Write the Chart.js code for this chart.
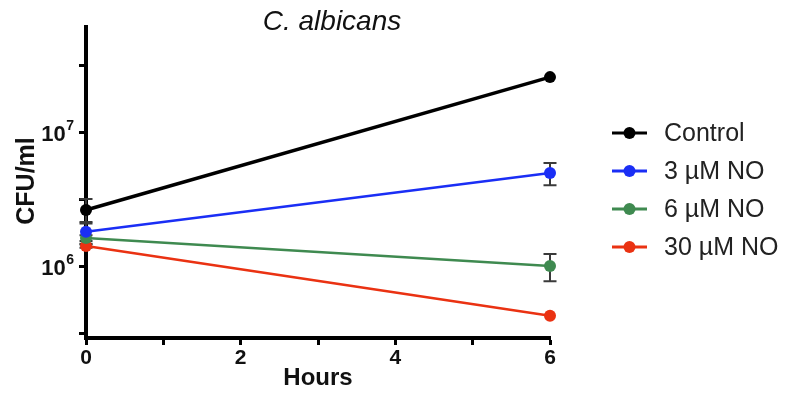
<!DOCTYPE html>
<html>
<head>
<meta charset="utf-8">
<script src="https://cdn.jsdelivr.net/npm/chart.js@4.4.1/dist/chart.umd.min.js"></script>
<style>
html,body{margin:0;padding:0;background:#fff;}
#wrap{position:relative;width:787px;height:395px;}
</style>
</head>
<body>
<div id="wrap"><canvas id="c" width="787" height="395"></canvas></div>
<script>
// ---- data ----
const hours = [0, 6];
const seriesNames = ['Control', '3 µM NO', '6 µM NO', '30 µM NO'];
const seriesColors = ['#000000', '#1a2ef5', '#3f8a50', '#ea3212'];
const controlMean = [2.62e6, 2.57e7];
const controlErr  = [0.54e6, 0.0];
const no3Mean     = [1.80e6, 4.94e6];
const no3Err      = [0.33e6, 0.93e6];
const no6Mean     = [1.62e6, 1.00e6];
const no6Err      = [0.08e6, 0.23e6];
const no30Mean    = [1.41e6, 4.26e5];
const no30Err     = [0.04e6, 0.0];
const xTickValues = [0, 1, 2, 3, 4, 5, 6];
const xTickLabels = ['0', '', '2', '', '4', '', '6'];
const yTickValues = [Math.pow(10, 5.5), 1e6, Math.pow(10, 6.5), 1e7, Math.pow(10, 7.5)];
const yTickExponents = [null, '6', null, '7', null];
const yMin = Math.pow(10, 5.463);
const yMax = Math.pow(10, 7.784);
const chartTitle = 'C. albicans';
const xTitle = 'Hours';
const yTitle = 'CFU/ml';

const means = [controlMean, no3Mean, no6Mean, no30Mean];
const errs = [controlErr, no3Err, no6Err, no30Err];

const datasets = seriesNames.map((name, i) => ({
  label: name,
  data: hours.map((h, j) => ({x: h, y: means[i][j]})),
  errors: errs[i],
  borderColor: seriesColors[i],
  backgroundColor: seriesColors[i],
  pointBackgroundColor: seriesColors[i],
  pointBorderColor: seriesColors[i],
  borderWidth: i === 0 ? 3.5 : 2.5,
  pointRadius: 6,
  pointBorderWidth: 0,
  clip: false,
  tension: 0
}));

const FONT = '"Liberation Sans", Arial, sans-serif';

const errorBars = {
  id: 'errorBars',
  beforeDatasetsDraw(chart) {
    const ctx = chart.ctx;
    const xs = chart.scales.x, ys = chart.scales.y;
    ctx.save();
    chart.data.datasets.forEach((ds) => {
      ds.data.forEach((p, j) => {
        const e = ds.errors[j];
        if (!e) return;
        const px = xs.getPixelForValue(p.x);
        const yt = ys.getPixelForValue(p.y + e);
        const yb = ys.getPixelForValue(Math.max(p.y - e, 1));
        ctx.strokeStyle = '#3a3a3a';
        ctx.lineWidth = 2;
        ctx.beginPath();
        ctx.moveTo(px, yt); ctx.lineTo(px, yb);
        ctx.moveTo(px - 6.5, yt); ctx.lineTo(px + 6.5, yt);
        ctx.moveTo(px - 6.5, yb); ctx.lineTo(px + 6.5, yb);
        ctx.stroke();
      });
    });
    ctx.restore();
  }
};

const texts = {
  id: 'texts',
  afterDraw(chart) {
    const ctx = chart.ctx;
    const ys = chart.scales.y;
    const area = chart.chartArea;
    ctx.save();
    ctx.fillStyle = '#111';
    // title
    ctx.font = 'italic 28px ' + FONT;
    ctx.textAlign = 'center';
    ctx.textBaseline = 'alphabetic';
    ctx.fillText(chartTitle, 332, 30);
    // x title
    ctx.font = 'bold 24px ' + FONT;
    ctx.fillText(xTitle, (area.left + area.right) / 2, 385);
    // y title
    ctx.save();
    ctx.translate(34, (137 + 225) / 2);
    ctx.rotate(-Math.PI / 2);
    ctx.textAlign = 'center';
    ctx.font = 'bold 25px ' + FONT;
    ctx.fillText(yTitle, 0, 0);
    ctx.restore();
    // y tick labels with superscripts
    yTickValues.forEach((v, i) => {
      const ex = yTickExponents[i];
      if (!ex) return;
      const y = ys.getPixelForValue(v);
      ctx.textAlign = 'right';
      ctx.font = 'bold 14px ' + FONT;
      const exW = ctx.measureText(ex).width;
      const right = area.left - 12;
      ctx.fillText(ex, right, y - 2);
      ctx.font = 'bold 22px ' + FONT;
      ctx.fillText('10', right - exW - 0.5, y + 9);
    });
    // legend
    const ly0 = 133, lstep = 38;
    chart.data.datasets.forEach((ds, i) => {
      const y = ly0 + i * lstep;
      ctx.strokeStyle = ds.borderColor;
      ctx.lineWidth = 3;
      ctx.beginPath();
      ctx.moveTo(612, y); ctx.lineTo(647, y);
      ctx.stroke();
      ctx.fillStyle = ds.borderColor;
      ctx.beginPath();
      ctx.arc(629.5, y, 6, 0, Math.PI * 2);
      ctx.fill();
      ctx.fillStyle = '#222';
      ctx.font = '25px ' + FONT;
      ctx.textAlign = 'left';
      ctx.textBaseline = 'middle';
      ctx.fillText(ds.label, 664, y + 1);
      ctx.textBaseline = 'alphabetic';
    });
    ctx.restore();
  }
};

new Chart(document.getElementById('c'), {
  type: 'line',
  data: { datasets },
  options: {
    responsive: false,
    animation: false,
    devicePixelRatio: 1,
    layout: { padding: { left: 0, right: 237, top: 27, bottom: 0 } },
    plugins: { legend: { display: false }, tooltip: { enabled: false }, title: { display: false } },
    scales: {
      x: {
        type: 'linear',
        min: 0, max: 6,
        afterBuildTicks: (s) => { s.ticks = xTickValues.map(v => ({value: v})); },
        afterFit: (s) => { s.height = 57; },
        ticks: {
          autoSkip: false,
          callback: (v) => xTickLabels[xTickValues.indexOf(v)] ?? '',
          color: '#111',
          font: { family: FONT, size: 21, weight: 'bold' },
          padding: 1,
          maxRotation: 0
        },
        grid: { drawOnChartArea: false, tickLength: 7, tickColor: '#000', tickWidth: 3, drawTicks: true },
        border: { display: true, color: '#000', width: 4 }
      },
      y: {
        type: 'logarithmic',
        min: yMin, max: yMax,
        afterBuildTicks: (s) => { s.ticks = yTickValues.map(v => ({value: v})); },
        afterFit: (s) => { s.width = 86; },
        ticks: { callback: () => '', font: { size: 1 } },
        grid: { drawOnChartArea: false, tickLength: 7, tickColor: '#000', tickWidth: 3 },
        border: { display: true, color: '#000', width: 4 }
      }
    }
  },
  plugins: [errorBars, texts]
});
</script>
</body>
</html>
